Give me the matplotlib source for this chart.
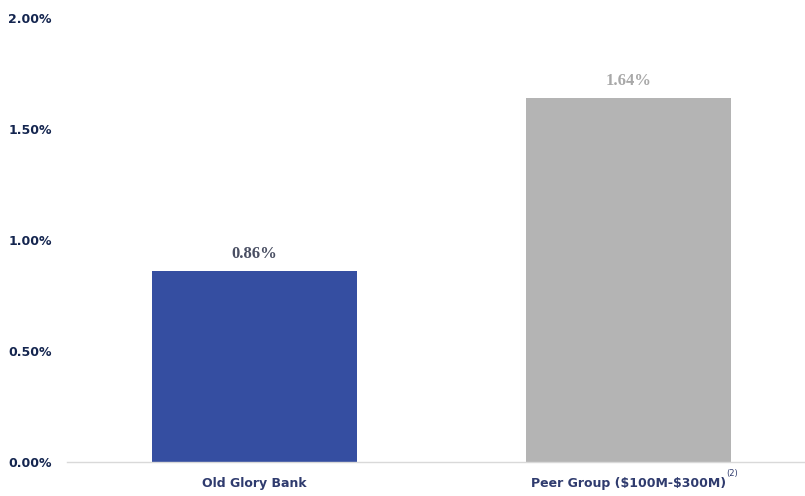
import matplotlib
matplotlib.use('Agg')
import matplotlib.pyplot as plt
from matplotlib.ticker import FuncFormatter

categories = ['Old Glory Bank', r'Peer Group (\$100M-\$300M)']
values = [0.86, 1.64]
value_labels = ['0.86%', '1.64%']
bar_colors = ['#354ea1', '#b4b4b4']
label_colors = ['#4a4f63', '#a8a8a8']
yticks = [0.0, 0.5, 1.0, 1.5, 2.0]

fig = plt.figure(figsize=(8.05, 4.96), dpi=100)
ax = fig.add_axes([67 / 805, 1 - 462 / 496, (805 - 67) / 805, (462 - 18) / 496])

x = list(range(len(categories)))
ax.bar(x, values, width=0.547, color=bar_colors)

for xi, v, lab, c in zip(x, values, value_labels, label_colors):
    ax.text(xi, v + 0.04, lab, ha='center', va='bottom', fontsize=12,
            family='Liberation Serif', fontweight='bold', color=c)

ax.set_xlim(-0.5, 1.47)
ax.set_ylim(0, 2.0)
ax.set_yticks(yticks)
ax.yaxis.set_major_formatter(FuncFormatter(lambda v, p: '{:.2f}%'.format(v)))
ax.set_xticks(x)
ax.set_xticklabels(categories)

for lbl in ax.get_yticklabels():
    lbl.set_fontweight('bold')
    lbl.set_color('#14254f')
    lbl.set_fontsize(9)
for lbl in ax.get_xticklabels():
    lbl.set_fontweight('bold')
    lbl.set_color('#2f3b6e')
    lbl.set_fontsize(9)

ax.tick_params(axis='both', length=0)
ax.tick_params(axis='y', pad=11)
ax.tick_params(axis='x', pad=11)

for s in ['top', 'right', 'left']:
    ax.spines[s].set_visible(False)
ax.spines['bottom'].set_color('#d9d9d9')
ax.spines['bottom'].set_linewidth(1)

# footnote marker on the peer group label
ax.annotate('(2)', xy=(1, 0), xycoords=('data', 'axes fraction'),
            xytext=(70, -8), textcoords='offset points',
            fontsize=6, color='#2f3b6e', ha='left', va='center')

plt.savefig('out.png', dpi=100)
